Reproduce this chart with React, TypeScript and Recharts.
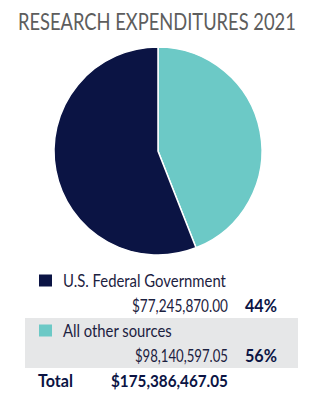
import React from "react";
import { PieChart, Pie, Cell } from "recharts";

const title = "RESEARCH EXPENDITURES 2021";
const sliceNames = ["U.S. Federal Government", "All other sources"];
const sliceValues = [77245870.0, 98140597.05];
const sliceColors = ["#6cc9c6", "#0b1444"];
const legendColors = ["#0b1444", "#6cc9c6"];
const amountLabels = ["$77,245,870.00", "$98,140,597.05"];
const percentLabels = ["44%", "56%"];
const totalName = "Total";
const totalLabel = "$175,386,467.05";

const pieData = sliceNames.map((name, i) => ({ name, value: sliceValues[i] }));

const font = "Lato, 'Open Sans', sans-serif";
const nameWidths = [163, 109];
const amountWidths = [96, 93];

let ctx: CanvasRenderingContext2D | null = null;
function measure(text: string, size: number, weight: number): number {
  if (!ctx) ctx = document.createElement("canvas").getContext("2d");
  if (!ctx) return text.length * size * 0.55;
  ctx.font = `${weight} ${size}px ${font}`;
  return ctx.measureText(text).width;
}

type FitProps = { text: string; x: number; y: number; width: number; size: number; weight?: number; fill: string };
function FitText({ text, x, y, width, size, weight = 400, fill }: FitProps) {
  const natural = measure(text, size, weight);
  const sx = natural > 0 ? width / natural : 1;
  return (
    <text transform={`translate(${x},${y}) scale(${sx.toFixed(4)},1)`} fontSize={size} fontWeight={weight} fill={fill}>
      {text}
    </text>
  );
}

export default function App() {
  return (
    <div style={{ position: "absolute", left: 0, top: 0, width: 330, height: 400, background: "#fff", overflow: "hidden" }}>
      <div style={{ position: "absolute", left: 0, top: 0 }}>
        <PieChart width={330} height={270} margin={{ top: 0, right: 0, bottom: 0, left: 0 }}>
          <Pie
            data={pieData}
            dataKey="value"
            cx={158}
            cy={151}
            outerRadius={104}
            startAngle={90}
            endAngle={-270}
            stroke="#ffffff"
            strokeWidth={1.5}
            isAnimationActive={false}
          >
            {pieData.map((d, i) => (
              <Cell key={d.name} fill={sliceColors[i]} />
            ))}
          </Pie>
        </PieChart>
      </div>
      <svg width={330} height={400} style={{ position: "absolute", left: 0, top: 0 }} fontFamily={font}>
        <FitText text={title} x={18} y={30} width={278} size={23} fill="#5d5d5d" />
        <rect x={25} y={318} width={273} height={50} fill="#e6e7e8" />
        {sliceNames.map((name, i) => {
          const base = 287 + i * 50;
          return (
            <g key={name}>
              <rect x={39} y={base - 12.5} width={13} height={12} fill={legendColors[i]} />
              <FitText text={name} x={63} y={base} width={nameWidths[i]} size={17} fill="#1c2140" />
              <FitText text={amountLabels[i]} x={228 - amountWidths[i]} y={base + 24.5} width={amountWidths[i]} size={17} fill="#1c2140" />
              <FitText text={percentLabels[i]} x={245} y={base + 24.5} width={32} size={17} weight={700} fill="#0b1444" />
            </g>
          );
        })}
        <FitText text={totalName} x={38} y={387} width={35} size={17} weight={700} fill="#0b1444" />
        <FitText text={totalLabel} x={111} y={387} width={117} size={17} weight={700} fill="#0b1444" />
      </svg>
    </div>
  );
}
